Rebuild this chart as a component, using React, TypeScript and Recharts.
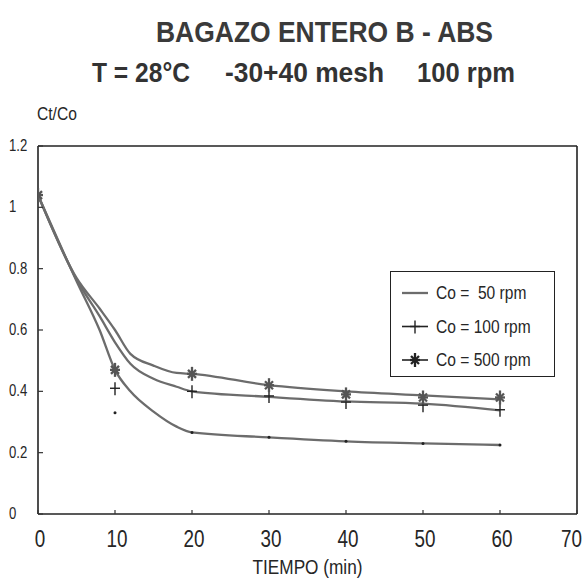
import React from 'react';
import { ComposedChart, Line, Scatter, XAxis, YAxis, ReferenceLine } from 'recharts';

// Smoothed (fitted) curves
const fitTimes = [0, 5, 8, 10, 12, 15, 18, 20, 30, 40, 50, 60];
const fit50 = [1.04, 0.76, 0.6, 0.47, 0.4, 0.334, 0.285, 0.266, 0.25, 0.237, 0.23, 0.225];
const fit100 = [1.04, 0.765, 0.645, 0.56, 0.49, 0.441, 0.415, 0.4, 0.382, 0.367, 0.36, 0.338];
const fit500 = [1.04, 0.77, 0.67, 0.6, 0.522, 0.484, 0.46, 0.457, 0.42, 0.4, 0.387, 0.374];

// Measured points (markers)
const markTimes = [0, 10, 20, 30, 40, 50, 60];
const mark50 = [1.04, 0.33, 0.266, 0.25, 0.237, 0.23, 0.225];
const mark100 = [1.04, 0.41, 0.4, 0.385, 0.365, 0.355, 0.34];
const mark500 = [1.04, 0.47, 0.457, 0.42, 0.39, 0.38, 0.38];

const legendLabels = ['Co =  50 rpm', 'Co = 100 rpm', 'Co = 500 rpm'];
const xTicks = [0, 10, 20, 30, 40, 50, 60, 70];
const yTicks = [0, 0.2, 0.4, 0.6, 0.8, 1, 1.2];
const yTickLabels = ['0', '0.2', '0.4', '0.6', '0.8', '1', '1.2'];
const xMax = 70;
const yMax = 1.2;

const title = 'BAGAZO ENTERO B - ABS';
const subtitleParts = ['T = 28°C', '-30+40 mesh', '100 rpm'];
const yAxisTitle = 'Ct/Co';
const xAxisTitle = 'TIEMPO (min)';

const toPoints = (ts: number[], vs: number[]) => ts.map((t, i) => ({ t, v: vs[i] }));

const LINE = '#6c6c6c';
const TEXT = '#262626';
const SANS = '"Liberation Sans", Arial, sans-serif';
const NARROW_SCALE = 0.82;

const Narrow = ({ x, y, size, anchor = 'start', children }: any) => (
  <text transform={`translate(${x},${y}) scale(${NARROW_SCALE},1)`} fontSize={size} fontFamily={SANS}
    fill={TEXT} textAnchor={anchor} style={{ whiteSpace: 'pre' }}>{children}</text>
);

const Asterisk = ({ cx, cy, color = '#555' }: any) => (
  <g stroke={color} strokeWidth={2.3}>
    <line x1={cx - 5} y1={cy} x2={cx + 5} y2={cy} />
    <line x1={cx} y1={cy - 7} x2={cx} y2={cy + 7} />
    <line x1={cx - 4} y1={cy - 4} x2={cx + 4} y2={cy + 4} />
    <line x1={cx - 4} y1={cy + 4} x2={cx + 4} y2={cy - 4} />
  </g>
);
const Plus = ({ cx, cy, color = '#222' }: any) => (
  <g stroke={color} strokeWidth={1.4}>
    <line x1={cx - 5} y1={cy} x2={cx + 5} y2={cy} />
    <line x1={cx} y1={cy - 6} x2={cx} y2={cy + 7} />
  </g>
);
const Dot = ({ cx, cy }: any) => <circle cx={cx} cy={cy} r={1.5} fill="#222" />;

const YTick = (props: any) => {
  const { x, y, payload } = props;
  const lab = yTickLabels[yTicks.indexOf(payload.value)] ?? String(payload.value);
  return (
    <g>
      <line x1={x} x2={x + 5} y1={y} y2={y} stroke="#333" strokeWidth={1.2} />
      <Narrow x={x - 29} y={y + 5} size={16}>{lab}</Narrow>
    </g>
  );
};

const XTick = (props: any) => {
  const { x, y, payload } = props;
  const last = payload.value === xMax;
  return (
    <g>
      <line x1={x} x2={x} y1={y - 4} y2={y} stroke="#333" strokeWidth={1.2} />
      <Narrow x={last ? x + 5 : x + 2} y={y + 33} size={23} anchor={last ? 'end' : 'middle'}>{payload.value}</Narrow>
    </g>
  );
};

const XLabel = (props: any) => {
  const { viewBox } = props;
  const cx = viewBox.x + viewBox.width / 2;
  return <Narrow x={cx} y={viewBox.y + 60} size={21} anchor="middle">{xAxisTitle}</Narrow>;
};

export default function App() {
  const shapes = [Dot, Plus, Asterisk];
  return (
    <div style={{ position: 'absolute', left: 0, top: 0, width: 584, height: 581, background: '#fff', fontFamily: SANS }}>
      <svg width={584} height={140} style={{ position: 'absolute', left: 0, top: 0 }}>
        <text x={156} y={42} fontSize={30} fontWeight="bold" fontFamily={SANS} fill="#3a3a3a"
          textLength={337} lengthAdjust="spacingAndGlyphs">{title}</text>
        <text x={92} y={81.5} fontSize={27} fontWeight="bold" fontFamily={SANS} fill="#333"
          textLength={98} lengthAdjust="spacingAndGlyphs">{subtitleParts[0]}</text>
        <text x={225} y={81.5} fontSize={27} fontWeight="bold" fontFamily={SANS} fill="#333"
          textLength={159} lengthAdjust="spacingAndGlyphs">{subtitleParts[1]}</text>
        <text x={417} y={82} fontSize={27} fontWeight="bold" fontFamily={SANS} fill="#333"
          textLength={98} lengthAdjust="spacingAndGlyphs">{subtitleParts[2]}</text>
        <Narrow x={37} y={120} size={19}>{yAxisTitle}</Narrow>
      </svg>
      <ComposedChart width={584} height={581} margin={{ top: 146, right: 7, bottom: 0, left: 0 }}
        style={{ position: 'absolute', left: 0, top: 0 }}>
        <XAxis dataKey="t" type="number" domain={[0, xMax]} ticks={xTicks} interval={0}
          tickSize={0} tickMargin={0} tick={<XTick />} height={67}
          axisLine={{ stroke: '#222', strokeWidth: 1.6 }} allowDataOverflow
          label={<XLabel />} />
        <YAxis type="number" domain={[0, yMax]} ticks={yTicks} interval={0} width={38}
          tickSize={0} tickMargin={0} tick={<YTick />} axisLine={{ stroke: '#222', strokeWidth: 1.6 }} />
        <ReferenceLine y={yMax} stroke="#222" strokeWidth={1.6} ifOverflow="visible" />
        <ReferenceLine x={xMax} stroke="#222" strokeWidth={1.6} ifOverflow="visible" />
        <Line data={toPoints(fitTimes, fit50)} dataKey="v" type="monotone" stroke={LINE} strokeWidth={2.3}
          dot={false} isAnimationActive={false} />
        <Line data={toPoints(fitTimes, fit100)} dataKey="v" type="monotone" stroke={LINE} strokeWidth={2.3}
          dot={false} isAnimationActive={false} />
        <Line data={toPoints(fitTimes, fit500)} dataKey="v" type="monotone" stroke={LINE} strokeWidth={2.3}
          dot={false} isAnimationActive={false} />
        <Scatter data={toPoints(markTimes, mark50)} dataKey="v" shape={(p: any) => <Dot cx={p.cx} cy={p.cy} />}
          isAnimationActive={false} />
        <Scatter data={toPoints(markTimes, mark100)} dataKey="v" shape={(p: any) => <Plus cx={p.cx} cy={p.cy} />}
          isAnimationActive={false} />
        <Scatter data={toPoints(markTimes, mark500)} dataKey="v" shape={(p: any) => <Asterisk cx={p.cx} cy={p.cy} />}
          isAnimationActive={false} />
      </ComposedChart>
      <div style={{ position: 'absolute', left: 390, top: 271, width: 165, height: 106, boxSizing: 'border-box',
        border: '1.6px solid #222', background: '#fff' }}>
        <svg width={163} height={104} style={{ display: 'block' }}>
          {legendLabels.map((lab, i) => {
            const cy = 21 + i * 33.5;
            const Shape = shapes[i];
            return (
              <g key={lab}>
                <line x1={11} x2={37} y1={cy} y2={cy} stroke={i === 0 ? LINE : '#222'} strokeWidth={i === 0 ? 2.3 : 1.6} />
                {i > 0 && <Shape cx={24} cy={cy} color="#222" />}
                <Narrow x={45} y={cy + 6} size={19}>{lab}</Narrow>
              </g>
            );
          })}
        </svg>
      </div>
    </div>
  );
}
